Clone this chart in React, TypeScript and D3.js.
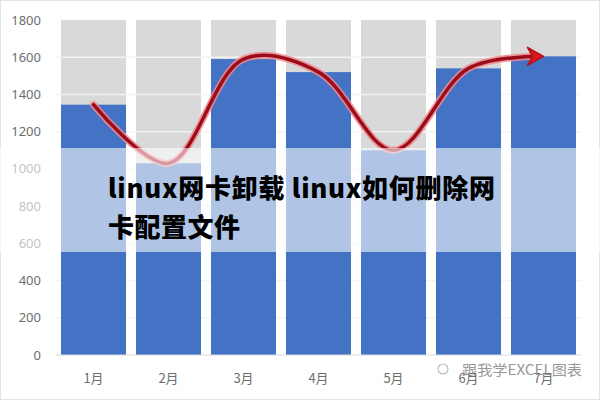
import React from "react";
import * as d3 from "d3";

const months = ["1月", "2月", "3月", "4月", "5月", "6月", "7月"];
const values = [1345, 1030, 1590, 1520, 1100, 1540, 1605];
const backgroundMax = [1800, 1800, 1800, 1800, 1800, 1800, 1800];
const yTicks = [0, 200, 400, 600, 800, 1000, 1200, 1400, 1600, 1800];
const titleLine1 = "linux网卡卸载 linux如何删除网";
const titleLine2 = "卡配置文件";
const watermark = "跟我学EXCEL图表";

const W = 600;
const H = 400;

export default function App() {
  const x = d3
    .scaleBand<string>()
    .domain(months)
    .range([56, 581])
    .paddingInner(0.133)
    .paddingOuter(0.0667);
  const y = d3.scaleLinear().domain([0, 1800]).range([355, 20]);

  const pts: [number, number][] = months.map((m, i) => [
    (x(m) as number) + x.bandwidth() / 2,
    y(values[i]),
  ]);
  const line = d3
    .line<[number, number]>()
    .x((d) => d[0])
    .y((d) => d[1])
    .curve(d3.curveCatmullRom.alpha(0.5));
  const last = pts[pts.length - 1];
  const linePts = pts.slice(0, -1).concat([[last[0] - 6, last[1]]]);
  const pathD = line(linePts) || "";

  const tip = [last[0], last[1]];
  const arrow = `M${tip[0] - 16},${tip[1] - 9} L${tip[0]},${tip[1]} L${tip[0] - 16},${tip[1] + 9} L${tip[0] - 11},${tip[1]} Z`;

  const font = "'Noto Sans', 'Liberation Sans', sans-serif";
  const cjk = "'Noto Sans CJK SC', sans-serif";

  return (
    <svg
      width={W}
      height={H}
      style={{ position: "absolute", left: 0, top: 0, background: "#fff" }}
    >
      <rect x={0.5} y={0.5} width={W - 1} height={H - 1} fill="#fff" stroke="#e4e4e4" />
      {months.map((m, i) => (
        <rect
          key={"bg" + m}
          x={x(m)}
          y={y(backgroundMax[i])}
          width={x.bandwidth()}
          height={y(0) - y(backgroundMax[i])}
          fill="#d9d9d9"
        />
      ))}
      {yTicks.slice(1, -1).map((t) => (
        <line
          key={"g" + t}
          x1={56}
          x2={581}
          y1={y(t)}
          y2={y(t)}
          stroke="#f4f4f4"
          strokeWidth={1.5}
        />
      ))}
      {months.map((m, i) => (
        <rect
          key={"v" + m}
          x={x(m)}
          y={y(values[i])}
          width={x.bandwidth()}
          height={y(0) - y(values[i])}
          fill="#4472c4"
        />
      ))}
      <line x1={56} x2={581} y1={y(0)} y2={y(0)} stroke="#d9d9d9" />
      {yTicks.map((t) => (
        <text
          key={"yt" + t}
          x={41}
          y={y(t)}
          dy="0.35em"
          textAnchor="end"
          fontFamily={font}
          fontSize={13}
          fill="#6e6e6e"
        >
          {t}
        </text>
      ))}
      {months.map((m) => (
        <text
          key={"xl" + m}
          x={(x(m) as number) + x.bandwidth() / 2}
          y={378}
          dy="0.35em"
          textAnchor="middle"
          fontFamily={cjk}
          fontSize={13}
          fill="#6e6e6e"
        >
          {m}
        </text>
      ))}
      <path d={pathD} fill="none" stroke="#ef8a8f" strokeWidth={7} strokeLinecap="round" opacity={0.85} />
      <path d={pathD} fill="none" stroke="#9c0d1c" strokeWidth={3.5} strokeLinecap="round" />
      <path d={arrow} fill="#d9141f" stroke="#b50f1c" strokeWidth={1.5} strokeLinejoin="round" />
      <rect x={0} y={148} width={W} height={104} fill="#fff" opacity={0.58} />
      <text
        x={108}
        y={198}
        fontFamily={cjk}
        fontWeight={900}
        fontSize={26}
        fill="#000"
        textLength={387}
        lengthAdjust="spacing"
      >
        {titleLine1}
      </text>
      <text
        x={108}
        y={237}
        fontFamily={cjk}
        fontWeight={900}
        fontSize={26}
        fill="#000"
        textLength={132}
        lengthAdjust="spacing"
      >
        {titleLine2}
      </text>
      <circle cx={443} cy={369} r={5} fill="none" stroke="#bbb" strokeWidth={1.2} />
      <text
        x={462}
        y={370}
        dy="0.35em"
        fontFamily={cjk}
        fontSize={14}
        fill="#888"
        opacity={0.85}
        textLength={120}
        lengthAdjust="spacingAndGlyphs"
      >
        {watermark}
      </text>
    </svg>
  );
}
